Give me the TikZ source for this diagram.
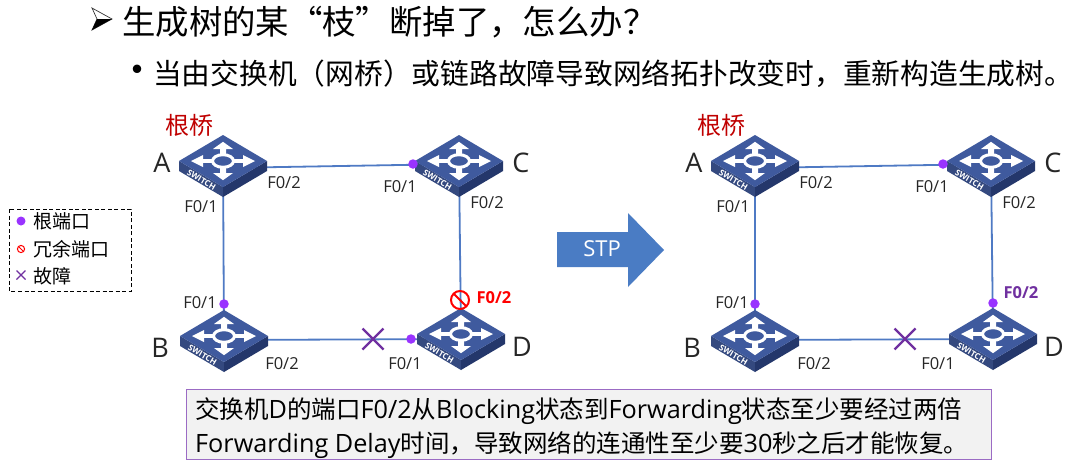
\documentclass[tikz,border=0pt]{standalone}
\usepackage{fontspec}
\setmainfont{Noto Sans CJK SC}
\newfontfamily\latfont{Open Sans}
\newfontfamily\latnote[Scale=1.03]{Open Sans}
\usetikzlibrary{calc}
\definecolor{linkblue}{HTML}{4F7AC4}
\definecolor{swtop}{HTML}{3F5A9E}
\definecolor{swleft}{HTML}{34497F}
\definecolor{swright}{HTML}{24376B}
\definecolor{rootdot}{HTML}{9933FF}
\definecolor{crossc}{HTML}{7030A0}
\definecolor{darkred}{HTML}{C00000}
\definecolor{boxline}{HTML}{9B6BC4}
\definecolor{boxfill}{HTML}{F2F2F2}
\definecolor{arrowblue}{HTML}{4A7CC4}
\newcommand{\fs}[1]{\fontsize{#1}{#1}\selectfont}
\newcommand{\la}[1]{{\latnote #1}}
\tikzset{
  x=1pt,y=-1pt,
  link/.style={draw=linkblue,line width=1.8pt},
  portlabel/.style={inner sep=0pt,font=\latfont\fs{16.5},text=black!85},
  namelabel/.style={inner sep=0pt,font=\latfont\fs{27},text=black!85},
  rootlabel/.style={inner sep=0pt,font=\fs{24},text=darkred},
  rootport/.style={circle,fill=rootdot,draw=none,inner sep=0pt,minimum size=9.5pt},
  crossmark/.style={draw=crossc,line width=2.4pt},
  swarrow/.style={fill=white,draw=none},
  switchpic/.pic={
    \fill[swleft] (-44,0) -- (0,26) -- (0,36) -- (-44,10) -- cycle;
    \fill[swright] (44,0) -- (0,26) -- (0,36) -- (44,10) -- cycle;
    \fill[swtop] (-44,0) -- (0,-26) -- (44,0) -- (0,26) -- cycle;
    \foreach \a in {0,90,180,270}{
      \begin{scope}[yscale=0.6,rotate=\a]
        \fill[swarrow] (9,-3) -- (20,-3) -- (20,-10) -- (32,0) -- (20,10) -- (20,3) -- (9,3) -- cycle;
      \end{scope}
    }
    \draw[white,line width=3pt,fill=swtop] (0,0) ellipse [x radius=10.5,y radius=6.3];
    \node[rotate=-30.6,text=white,inner sep=0pt,font=\bfseries\latfont\fs{8.3}] at (-21.5,19) {SWITCH};
  }
}
\begin{document}
\begin{tikzpicture}
\useasboundingbox (0,0) rectangle (1080,469);
\fill[white] (0,0) rectangle (1080,469);
% switch positions
\coordinate (A) at (223,161);
\coordinate (C) at (459,161);
\coordinate (B) at (224,336);
\coordinate (D) at (461,334);
\coordinate (A2) at (755,161);
\coordinate (C2) at (991,161);
\coordinate (B2) at (755,336);
\coordinate (D2) at (993,334);
% links
\path[link] ($(A)+(0,7)$) -- ($(C)+(0,3)$);
\path[link] (A) -- (B);
\path[link] ($(B)+(0,4)$) -- ($(D)+(0,5)$);
\path[link] (C) -- (D);
\path[link] ($(A2)+(0,7)$) -- ($(C2)+(0,3)$);
\path[link] (A2) -- (B2);
\path[link] ($(B2)+(0,4)$) -- ($(D2)+(0,5)$);
\path[link] (C2) -- (D2);
% switches
\foreach \p in {A,B,C,D,A2,B2,C2,D2}{ \pic at (\p) {switchpic}; }
% title
\fill[white,draw=black!80,line width=0.7pt] (92,8) -- (112,19) -- (92,30) -- (97,19) -- cycle;
\fill[black] (92,30) -- (112,19) -- (97,19) -- cycle;
\node[anchor=west,inner sep=0pt,font=\fs{33.4}] (t1) at (122,22) {生成树的某“枝”断掉了，怎么办？};
\node[inner sep=0pt,font=\fs{40}] (bul2) at (137,75) {•};
\node[anchor=west,inner sep=0pt,font=\fs{28.75}] (t2) at (153,74) {当由交换机（网桥）或链路故障导致网络拓扑改变时，重新构造生成树。};
% left diagram labels
\node[rootlabel] (r1) at (189,125) {根桥};
\node[namelabel] (la) at (162,163) {A};
\node[namelabel] (lc) at (521,163) {C};
\node[namelabel] (lb) at (160,348) {B};
\node[namelabel] (ld) at (522,347) {D};
\node[portlabel] (p1) at (284,183) {F0/2};
\node[portlabel] (p2) at (201,207) {F0/1};
\node[portlabel] (p3) at (400,187) {F0/1};
\node[portlabel] (p4) at (487,203) {F0/2};
\node[portlabel] (p5) at (200,303) {F0/1};
\node[portlabel] (p6) at (282,364) {F0/2};
\node[portlabel] (p7) at (405,364) {F0/1};
\node[inner sep=0pt,font=\bfseries\latfont\fs{16.5},text=red] (p8) at (494,298) {F0/2};
% left dots
\node[rootport] (d1) at (413,164) {};
\node[rootport] (d2) at (224,304) {};
\node[rootport] (d3) at (411,339) {};
% blocked port
\coordinate (blk) at (460,300);
\draw[red,line width=2pt] (blk) circle (9);
\draw[red,line width=2pt] ($(blk)+(-6.4,-6.4)$) -- ($(blk)+(6.4,6.4)$);
% cross left
\coordinate (x1) at (373,339);
\draw[crossmark] ($(x1)+(-10.5,-10.5)$) -- ($(x1)+(10.5,10.5)$);
\draw[crossmark] ($(x1)+(-10.5,10.5)$) -- ($(x1)+(10.5,-10.5)$);
% right diagram labels
\node[rootlabel] (r2) at (721,125) {根桥};
\node[namelabel] (la2) at (694,163) {A};
\node[namelabel] (lc2) at (1053,163) {C};
\node[namelabel] (lb2) at (692,348) {B};
\node[namelabel] (ld2) at (1054,347) {D};
\node[portlabel] (q1) at (816,183) {F0/2};
\node[portlabel] (q2) at (733,207) {F0/1};
\node[portlabel] (q3) at (932,187) {F0/1};
\node[portlabel] (q4) at (1019,203) {F0/2};
\node[portlabel] (q5) at (732,303) {F0/1};
\node[portlabel] (q6) at (814,364) {F0/2};
\node[portlabel] (q7) at (938,364) {F0/1};
\node[inner sep=0pt,font=\bfseries\latfont\fs{16.5},text=crossc] (q8) at (1021,293) {F0/2};
\node[rootport] (e1) at (943,164) {};
\node[rootport] (e2) at (755,304) {};
\node[rootport] (e3) at (993,303) {};
\coordinate (x2) at (905,339);
\draw[crossmark] ($(x2)+(-10.5,-10.5)$) -- ($(x2)+(10.5,10.5)$);
\draw[crossmark] ($(x2)+(-10.5,10.5)$) -- ($(x2)+(10.5,-10.5)$);
% STP arrow
\fill[arrowblue] (557,232) -- (628,232) -- (628,213) -- (664,250) -- (628,287) -- (628,267) -- (557,267) -- cycle;
\node[inner sep=0pt,text=white,font=\latfont\fs{22}] (stp) at (602,249) {STP};
% legend
\draw[dashed,black,line width=0.8pt,dash pattern=on 4pt off 2.5pt] (9,209) rectangle (131,291);
\node[rootport,minimum size=9pt] (l1) at (21,221) {};
\node[anchor=west,inner sep=0pt,font=\fs{19}] (l1t) at (33,221) {根端口};
\coordinate (l2) at (21,249);
\draw[red,line width=1pt] (l2) circle (3.6);
\draw[red,line width=1pt] ($(l2)+(-2.6,-2.6)$) -- ($(l2)+(2.6,2.6)$);
\node[anchor=west,inner sep=0pt,font=\fs{19}] (l2t) at (33,249) {冗余端口};
\coordinate (l3) at (21,275);
\draw[crossc,line width=1.2pt] ($(l3)+(-4.5,-4.5)$) -- ($(l3)+(4.5,4.5)$);
\draw[crossc,line width=1.2pt] ($(l3)+(-4.5,4.5)$) -- ($(l3)+(4.5,-4.5)$);
\node[anchor=west,inner sep=0pt,font=\fs{19}] (l3t) at (33,276) {故障};
% note
\draw[draw=boxline,fill=boxfill,line width=1pt] (186,389) rectangle (991,459);
\node[anchor=west,inner sep=0pt,font=\fs{24.5}] (n1) at (195,411) {交换机\la{D}的端口\la{F0/2}从\la{Blocking}状态到\la{Forwarding}状态至少要经过两倍};
\node[anchor=west,inner sep=0pt,font=\fs{24.5}] (n2) at (195,445) {\la{Forwarding Delay}时间，导致网络的连通性至少要\la{30}秒之后才能恢复。};
\end{tikzpicture}
\end{document}
